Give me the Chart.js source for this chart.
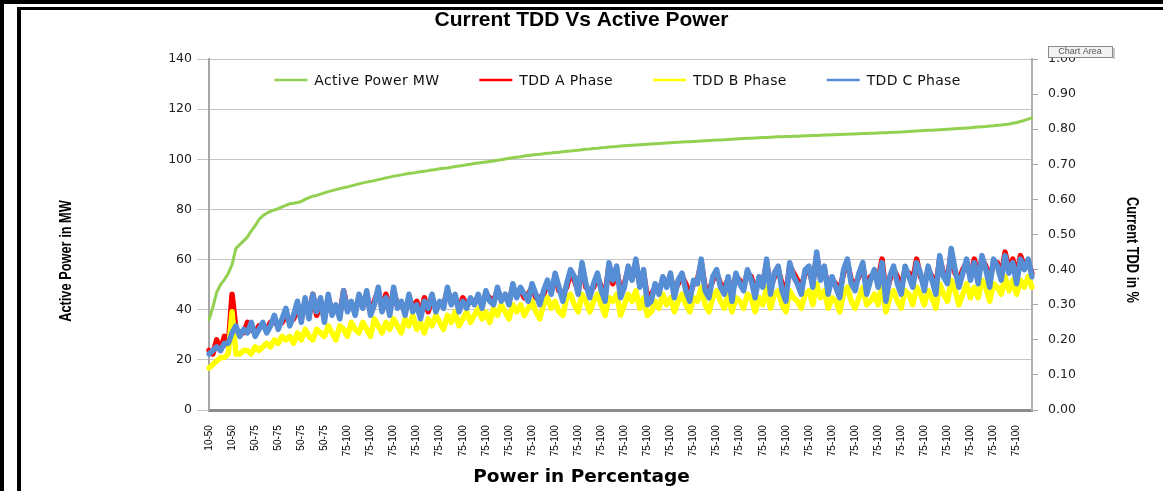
<!DOCTYPE html>
<html><head><meta charset="utf-8">
<script src="https://cdn.jsdelivr.net/npm/chart.js@4.4.1/dist/chart.umd.min.js"></script>
<style>html,body{margin:0;padding:0;background:#fff;overflow:hidden}canvas{display:block}</style>
</head><body>
<canvas id="c" width="1163" height="491"></canvas>
<script>
// X tick labels (one per group of points)
const categories = ["10-50","10-50","50-75","50-75","50-75","50-75",
  "75-100","75-100","75-100","75-100","75-100","75-100","75-100","75-100","75-100","75-100",
  "75-100","75-100","75-100","75-100","75-100","75-100","75-100","75-100","75-100","75-100",
  "75-100","75-100","75-100","75-100","75-100","75-100","75-100","75-100","75-100","75-100"];
const POINTS_PER_LABEL = 6;

// Active Power MW (left axis)
const activePowerMW = [
36,41,47,50,52,54.5,58,64.5,66,67.5,
69,71.5,73.5,76,77.5,78.5,79.2,79.8,80.3,81,
81.6,82.3,82.5,82.8,83.2,84,84.7,85.3,85.6,86.1,
86.6,87.1,87.5,87.9,88.3,88.7,89,89.4,89.8,90.2,
90.6,90.9,91.2,91.5,91.9,92.2,92.6,92.9,93.3,93.5,
93.8,94.1,94.3,94.5,94.8,95.0,95.2,95.5,95.7,95.9,
96.2,96.4,96.5,96.8,97.1,97.3,97.5,97.8,98.0,98.3,
98.5,98.7,98.9,99.1,99.3,99.6,99.8,100.1,100.4,100.6,
100.8,101.0,101.3,101.5,101.7,101.9,102.0,102.2,102.4,102.5,
102.7,102.8,103.0,103.2,103.3,103.5,103.6,103.8,104.0,104.1,
104.3,104.4,104.6,104.7,104.9,105.0,105.1,105.3,105.4,105.5,
105.6,105.7,105.8,105.9,106.0,106.1,106.2,106.3,106.4,106.5,
106.6,106.7,106.8,106.9,107.0,107.0,107.1,107.2,107.3,107.4,
107.5,107.6,107.7,107.7,107.8,107.9,108.0,108.1,108.2,108.3,
108.4,108.4,108.5,108.6,108.7,108.7,108.8,108.9,109.0,109.0,
109.1,109.1,109.2,109.2,109.3,109.4,109.4,109.5,109.5,109.6,
109.7,109.7,109.8,109.8,109.9,110.0,110.0,110.1,110.1,110.2,
110.3,110.3,110.4,110.4,110.5,110.6,110.6,110.7,110.8,110.8,
110.9,111.0,111.1,111.2,111.3,111.4,111.5,111.6,111.6,111.7,
111.8,111.9,112.0,112.1,112.2,112.3,112.4,112.5,112.6,112.8,
112.9,113.0,113.1,113.3,113.4,113.6,113.7,113.9,114.1,114.4,
114.7,115.1,115.5,116.0,116.5];

// TDD A Phase (right axis)
const tddA = [
0.17,0.16,0.20,0.17,0.21,0.18,0.33,0.23,0.22,0.22,
0.25,0.23,0.22,0.24,0.24,0.23,0.25,0.25,0.24,0.25,
0.27,0.25,0.26,0.29,0.26,0.31,0.27,0.33,0.27,0.31,
0.26,0.32,0.28,0.29,0.27,0.34,0.29,0.30,0.28,0.32,
0.30,0.33,0.28,0.31,0.34,0.29,0.33,0.28,0.34,0.30,
0.30,0.28,0.32,0.29,0.31,0.27,0.32,0.28,0.32,0.29,
0.30,0.30,0.34,0.31,0.32,0.29,0.32,0.30,0.31,0.31,
0.32,0.30,0.33,0.32,0.31,0.34,0.32,0.32,0.31,0.35,
0.33,0.34,0.32,0.33,0.35,0.32,0.32,0.33,0.36,0.34,
0.38,0.34,0.33,0.35,0.39,0.37,0.34,0.41,0.35,0.34,
0.35,0.38,0.35,0.33,0.41,0.36,0.40,0.34,0.36,0.40,
0.38,0.42,0.36,0.39,0.32,0.33,0.35,0.34,0.37,0.36,
0.38,0.34,0.36,0.38,0.36,0.33,0.36,0.37,0.42,0.35,
0.34,0.37,0.39,0.36,0.35,0.37,0.34,0.38,0.37,0.35,
0.39,0.38,0.34,0.37,0.36,0.42,0.35,0.38,0.40,0.36,
0.33,0.41,0.39,0.37,0.35,0.39,0.40,0.36,0.44,0.38,
0.40,0.35,0.37,0.36,0.34,0.39,0.42,0.37,0.36,0.38,
0.41,0.35,0.38,0.39,0.37,0.43,0.33,0.37,0.40,0.38,
0.35,0.40,0.39,0.37,0.43,0.38,0.36,0.40,0.38,0.35,
0.43,0.39,0.37,0.45,0.39,0.37,0.40,0.42,0.38,0.43,
0.38,0.43,0.41,0.37,0.42,0.42,0.38,0.45,0.40,0.43,
0.38,0.44,0.41,0.42,0.39];

// TDD B Phase (right axis)
const tddB = [
0.12,0.13,0.14,0.15,0.15,0.16,0.28,0.16,0.16,0.17,
0.17,0.16,0.18,0.17,0.18,0.19,0.18,0.20,0.19,0.21,
0.20,0.21,0.19,0.22,0.20,0.23,0.21,0.20,0.23,0.22,
0.21,0.24,0.22,0.20,0.24,0.23,0.21,0.25,0.23,0.22,
0.25,0.23,0.21,0.26,0.24,0.22,0.25,0.23,0.26,0.24,
0.22,0.26,0.24,0.27,0.23,0.25,0.22,0.26,0.24,0.27,
0.25,0.23,0.27,0.25,0.28,0.24,0.26,0.28,0.25,0.27,
0.29,0.26,0.28,0.25,0.29,0.27,0.30,0.28,0.26,0.30,
0.28,0.30,0.27,0.29,0.31,0.28,0.26,0.30,0.32,0.29,
0.31,0.28,0.27,0.32,0.33,0.30,0.28,0.33,0.31,0.28,
0.31,0.33,0.30,0.27,0.32,0.31,0.33,0.27,0.30,0.33,
0.31,0.34,0.29,0.32,0.27,0.28,0.31,0.29,0.33,0.30,
0.32,0.28,0.31,0.33,0.30,0.28,0.32,0.31,0.35,0.30,
0.28,0.32,0.34,0.31,0.29,0.33,0.28,0.32,0.31,0.29,
0.33,0.32,0.28,0.32,0.30,0.35,0.29,0.33,0.34,0.30,
0.28,0.34,0.32,0.31,0.29,0.33,0.34,0.30,0.36,0.32,
0.34,0.29,0.32,0.31,0.28,0.33,0.35,0.31,0.29,0.32,
0.35,0.30,0.31,0.33,0.30,0.36,0.28,0.32,0.34,0.31,
0.29,0.34,0.33,0.30,0.35,0.33,0.30,0.34,0.32,0.29,
0.36,0.33,0.31,0.37,0.34,0.30,0.33,0.36,0.32,0.35,
0.32,0.37,0.35,0.31,0.36,0.35,0.33,0.38,0.34,0.37,
0.33,0.37,0.35,0.38,0.35];

// TDD C Phase (right axis)
const tddC = [
0.16,0.17,0.18,0.17,0.19,0.19,0.22,0.24,0.21,0.23,
0.22,0.25,0.21,0.23,0.25,0.22,0.24,0.27,0.23,0.26,
0.29,0.24,0.27,0.31,0.25,0.32,0.26,0.33,0.28,0.32,
0.25,0.33,0.27,0.30,0.26,0.34,0.28,0.31,0.27,0.33,
0.29,0.34,0.27,0.30,0.35,0.28,0.32,0.27,0.35,0.29,
0.31,0.27,0.33,0.28,0.30,0.26,0.31,0.29,0.33,0.28,
0.31,0.29,0.35,0.30,0.33,0.28,0.31,0.29,0.32,0.30,
0.33,0.29,0.34,0.31,0.30,0.35,0.31,0.33,0.30,0.36,
0.32,0.35,0.33,0.31,0.36,0.33,0.30,0.34,0.37,0.33,
0.39,0.35,0.31,0.36,0.40,0.38,0.33,0.42,0.36,0.32,
0.36,0.39,0.34,0.31,0.42,0.37,0.41,0.32,0.35,0.41,
0.37,0.43,0.35,0.40,0.30,0.31,0.36,0.33,0.38,0.35,
0.39,0.32,0.37,0.39,0.34,0.31,0.37,0.36,0.43,0.34,
0.32,0.38,0.40,0.35,0.33,0.38,0.31,0.39,0.36,0.34,
0.40,0.37,0.32,0.38,0.35,0.43,0.33,0.39,0.41,0.34,
0.31,0.42,0.38,0.36,0.33,0.40,0.41,0.35,0.45,0.37,
0.41,0.33,0.38,0.35,0.32,0.40,0.43,0.36,0.34,0.39,
0.42,0.33,0.37,0.40,0.35,0.42,0.31,0.38,0.41,0.36,
0.33,0.41,0.38,0.35,0.42,0.39,0.34,0.41,0.37,0.33,
0.44,0.38,0.36,0.46,0.40,0.35,0.39,0.43,0.37,0.42,
0.36,0.44,0.40,0.35,0.43,0.41,0.37,0.44,0.39,0.42,
0.36,0.43,0.40,0.43,0.38];

const labels = activePowerMW.map((_, i) => categories[Math.floor(i / POINTS_PER_LABEL)]);

const extras = {
  id: 'extras',
  beforeDraw(chart) {
    const {ctx, width, height} = chart;
    ctx.save();
    ctx.fillStyle = '#fff';
    ctx.fillRect(0, 0, width, height);
    ctx.fillStyle = '#000';
    ctx.fillRect(0, 0, width, 4);
    ctx.fillRect(0, 0, 4, height);
    ctx.fillRect(17, 7, width - 17, 3);
    ctx.fillRect(17, 7, 4, height - 7);
    ctx.restore();
  },
  afterDraw(chart) {
    const {ctx, chartArea: ca} = chart;
    ctx.save();
    // axis titles (condensed)
    ctx.fillStyle = '#000';
    ctx.textAlign = 'center';
    ctx.textBaseline = 'middle';
    ctx.font = 'bold 16px "Liberation Sans", sans-serif';
    ctx.save();
    ctx.translate(67, 261);
    ctx.rotate(-Math.PI / 2);
    ctx.scale(0.8, 1);
    ctx.fillText('Active Power in MW', 0, 0);
    ctx.restore();
    ctx.save();
    ctx.translate(1131, 250);
    ctx.rotate(Math.PI / 2);
    ctx.scale(0.8, 1);
    ctx.fillText('Current TDD in %', 0, 0);
    ctx.restore();

    // legend inside plot area
    ctx.font = '14px "DejaVu Sans", sans-serif';
    ctx.letterSpacing = '0.3px';
    ctx.textAlign = 'left';
    const ds = chart.data.datasets;
    const sample = 33, gap = 7, spacing = 40;
    const widths = ds.map(d => sample + gap + ctx.measureText(d.label).width);
    const total = widths.reduce((a, b) => a + b, 0) + spacing * (ds.length - 1);
    let x = (ca.left + ca.right) / 2 - 3 - total / 2;
    const y = ca.top + 21;
    ds.forEach((d, i) => {
      ctx.strokeStyle = d.borderColor;
      ctx.lineWidth = 2.5;
      ctx.beginPath();
      ctx.moveTo(x, y);
      ctx.lineTo(x + sample, y);
      ctx.stroke();
      ctx.fillStyle = '#111';
      ctx.fillText(d.label, x + sample + gap, y + 1);
      x += widths[i] + spacing;
    });
    ctx.letterSpacing = '0px';

    // "Chart Area" hover tag
    ctx.fillStyle = '#f3f3f3';
    ctx.fillRect(1048, 46, 64, 11);
    ctx.strokeStyle = '#8a8a8a';
    ctx.lineWidth = 1;
    ctx.strokeRect(1048.5, 46.5, 64, 11);
    ctx.fillStyle = '#c8c8c8';
    ctx.fillRect(1113, 48, 2, 11);
    ctx.fillStyle = '#555';
    ctx.font = '9px "Liberation Sans", sans-serif';
    ctx.textAlign = 'center';
    ctx.fillText('Chart Area', 1080, 52);
    ctx.restore();
  }
};

const lineDs = (label, data, color, width, axis, order) => ({
  label, data, borderColor: color, backgroundColor: color, borderWidth: width,
  pointRadius: 0, pointHoverRadius: 0, tension: 0, fill: false, yAxisID: axis, order,
  borderJoinStyle: 'round', borderCapStyle: 'round'
});

new Chart(document.getElementById('c'), {
  type: 'line',
  data: {
    labels,
    datasets: [
      lineDs('Active Power MW', activePowerMW, '#92d050', 3, 'y', 3),
      lineDs('TDD A Phase', tddA, '#ff0000', 5.5, 'y1', 2),
      lineDs('TDD B Phase', tddB, '#ffff00', 5.5, 'y1', 1),
      lineDs('TDD C Phase', tddC, '#558ed5', 5.5, 'y1', 0)
    ]
  },
  options: {
    responsive: false,
    animation: false,
    devicePixelRatio: 1,
    layout: { padding: 0 },
    plugins: {
      legend: { display: false },
      tooltip: { enabled: false },
      title: {
        display: true, text: 'Current TDD Vs Active Power', color: '#000',
        font: { family: '"Liberation Sans", sans-serif', size: 21, weight: 'bold' },
        padding: { top: 7.4, bottom: 26.4 }
      },
      subtitle: {
        display: true, position: 'bottom', text: 'Power in Percentage', color: '#000',
        font: { family: '"DejaVu Sans", sans-serif', size: 18.5, weight: 'bold' },
        padding: { top: 8, bottom: 2.9 }
      }
    },
    scales: {
      x: {
        type: 'category',
        grid: { display: false },
        border: { display: true, color: '#8c8c8c', width: 3 },
        ticks: {
          autoSkip: false, minRotation: 90, maxRotation: 90, padding: 7, color: '#000',
          font: { family: '"Liberation Sans", sans-serif', size: 10 },
          callback: (v, i) => (i % POINTS_PER_LABEL === 0 ? labels[i] : '')
        },
        afterFit: s => { s.height = 47.8; }
      },
      y: {
        position: 'left', min: 0, max: 140,
        grid: { color: '#c4c4c4', lineWidth: 1, tickLength: 12 },
        border: { display: true, color: '#a6a6a6', width: 2 },
        ticks: { stepSize: 20, padding: 5, color: '#222', font: { family: '"DejaVu Sans", sans-serif', size: 12.5 } },
        afterFit: s => { s.width = 209; }
      },
      y1: {
        position: 'right', min: 0, max: 1,
        grid: { drawOnChartArea: false, color: '#a6a6a6', tickLength: 6 },
        border: { display: true, color: '#b0b0b0', width: 2 },
        ticks: { stepSize: 0.1, padding: 10, color: '#222', font: { family: '"DejaVu Sans", sans-serif', size: 12.5 },
          callback: v => Number(v).toFixed(2) },
        afterFit: s => { s.width = 131; }
      }
    }
  },
  plugins: [extras]
});
</script>
</body></html>
